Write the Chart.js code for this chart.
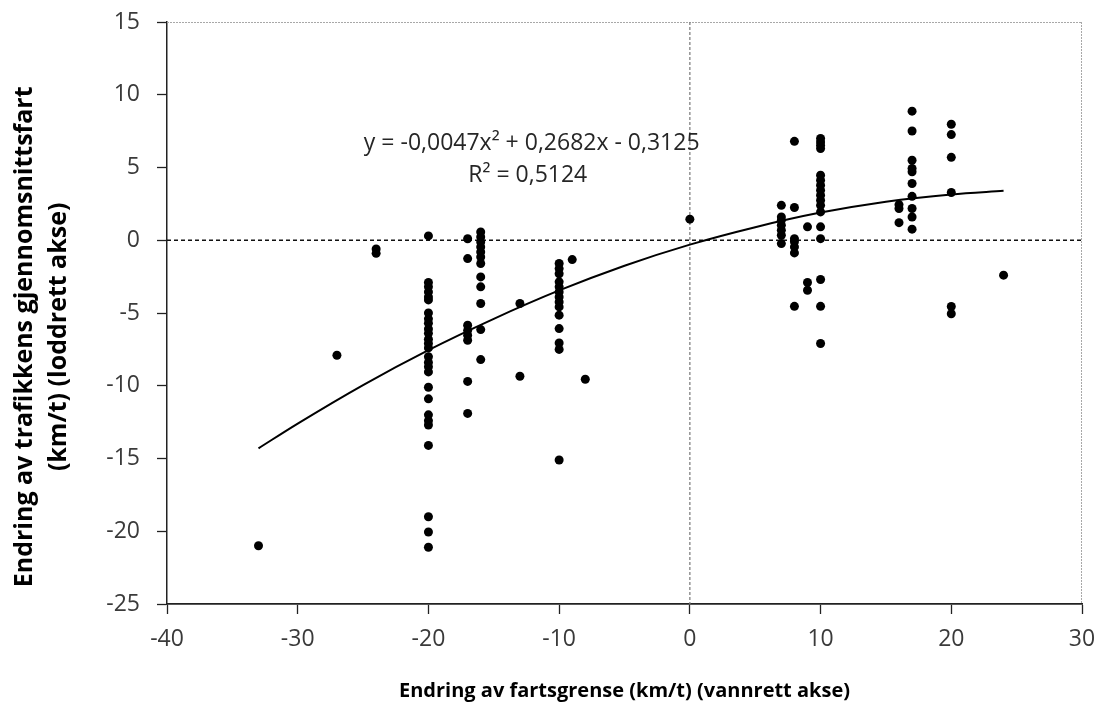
<!DOCTYPE html>
<html>
<head>
<meta charset="utf-8">
<script src="https://cdn.jsdelivr.net/npm/chart.js@4.4.1/dist/chart.umd.min.js"></script>
<style>
html,body{margin:0;padding:0;background:#fff;}
#wrap{width:1103px;height:715px;position:relative;}
canvas{display:block;}
</style>
</head>
<body>
<div id="wrap"><canvas id="c" width="1103" height="715"></canvas></div>
<script>
// ---- Data ----
const speedLimitChange = [
  -33, -27, -24, -24,
  -20, -20, -20, -20, -20, -20, -20, -20, -20, -20, -20, -20, -20, -20,
  -20, -20, -20, -20, -20, -20, -20, -20, -20, -20, -20, -20, -20,
  -17, -17, -17, -17, -17, -17, -17, -17,
  -16, -16, -16, -16, -16, -16, -16, -16, -16, -16, -16, -16,
  -13, -13,
  -10, -10, -10, -10, -10, -10, -10, -10, -10, -10, -10, -10, -10, -10,
  -9, -8, 0,
  7, 7, 7, 7, 7, 7, 7,
  8, 8, 8, 8, 8, 8, 8,
  9, 9, 9,
  10, 10, 10, 10, 10, 10, 10, 10, 10, 10, 10, 10, 10, 10, 10, 10, 10,
  16, 16, 16,
  17, 17, 17, 17, 17, 17, 17, 17, 17, 17,
  20, 20, 20, 20, 20, 20,
  24
];
const avgSpeedChange = [
  -21.0, -7.9, -0.6, -0.9,
  0.3, -2.9, -3.2, -3.55, -3.9, -4.1, -5.0, -5.4, -5.7, -6.1, -6.4, -6.8, -7.1, -7.4,
  -8.0, -8.4, -8.7, -9.05, -10.1, -10.9, -12.0, -12.4, -12.7, -14.1, -19.0, -20.05, -21.1,
  0.1, -1.26, -5.84, -6.19, -6.53, -6.87, -9.7, -11.9,
  0.57, 0.23, -0.12, -0.46, -0.8, -1.15, -1.6, -2.52, -3.2, -4.35, -6.14, -8.2,
  -4.35, -9.35,
  -1.6, -1.95, -2.3, -2.86, -3.2, -3.55, -3.9, -4.24, -4.58, -5.15, -6.07, -7.06, -7.5, -15.1,
  -1.33, -9.55, 1.45,
  2.4, 1.6, 1.37, 1.03, 0.69, 0.34, -0.23,
  6.8, 2.25, 0.11, -0.11, -0.46, -0.87, -4.54,
  0.92, -2.9, -3.44,
  6.99, 6.76, 6.53, 6.3, 4.47, 4.12, 3.78, 3.44, 3.09, 2.75, 2.4, 1.95, 0.92, 0.11, -2.7, -4.54, -7.1,
  2.45, 2.18, 1.21,
  8.87, 7.51, 5.5, 4.93, 4.7, 3.9, 3.02, 2.18, 1.6, 0.76,
  7.97, 7.26, 5.7, 3.28, -4.55, -5.05,
  -2.4
];
// Trend curve
const trendX = [-33, -30, -25, -20, -15, -10, -5, 0, 5, 10, 15, 20, 24];
const trendY = [-14.3, -12.6, -9.95, -7.55, -5.4, -3.45, -1.75, -0.3, 0.9, 1.9, 2.65, 3.15, 3.4];

const xTickValues = [-40, -30, -20, -10, 0, 10, 20, 30];
const yTickValues = [-25, -20, -15, -10, -5, 0, 5, 10, 15];

const equationLines = ['y = -0,0047x\u00B2 + 0,2682x - 0,3125', 'R\u00B2 = 0,5124'];
const xTitle = 'Endring av fartsgrense (km/t) (vannrett akse)';
const yTitle = ['Endring av trafikkens gjennomsnittsfart', '(km/t) (loddrett akse)'];

// ---- Build datasets ----
const scatterPoints = speedLimitChange.map((x, i) => ({ x: x, y: avgSpeedChange[i] }));
const trendPoints = trendX.map((x, i) => ({ x: x, y: trendY[i] }));

const FONT = '"Open Sans", "Noto Sans", "Liberation Sans", sans-serif';

const decor = {
  id: 'decor',
  beforeDatasetsDraw(chart) {
    const { ctx, chartArea: a, scales: { x, y } } = chart;
    ctx.save();
    // light top/right plot border
    ctx.strokeStyle = '#a8a8a8';
    ctx.lineWidth = 1;
    ctx.setLineDash([2, 1]);
    ctx.beginPath();
    ctx.moveTo(a.left, a.top + 0.5); ctx.lineTo(a.right, a.top + 0.5);
    ctx.moveTo(a.right - 0.5, a.top); ctx.lineTo(a.right - 0.5, a.bottom);
    ctx.stroke();
    // zero lines
    const y0 = y.getPixelForValue(0);
    const x0 = x.getPixelForValue(0);
    ctx.strokeStyle = '#111';
    ctx.lineWidth = 1.3;
    ctx.setLineDash([4, 3]);
    ctx.beginPath(); ctx.moveTo(a.left, y0); ctx.lineTo(a.right, y0); ctx.stroke();
    ctx.strokeStyle = '#808080';
    ctx.lineWidth = 1.3;
    ctx.setLineDash([3, 2]);
    ctx.beginPath(); ctx.moveTo(x0, a.top); ctx.lineTo(x0, a.bottom); ctx.stroke();
    ctx.restore();
  },
  afterDatasetsDraw(chart) {
    const { ctx, scales: { x, y } } = chart;
    ctx.save();
    ctx.font = '23px ' + FONT;
    ctx.fillStyle = '#262626';
    ctx.textAlign = 'center';
    ctx.textBaseline = 'middle';
    ctx.fillText(equationLines[0], x.getPixelForValue(-12.1), y.getPixelForValue(6.67));
    ctx.fillText(equationLines[1], x.getPixelForValue(-12.4), y.getPixelForValue(4.45));
    ctx.restore();
  },
  afterDraw(chart) {
    // vertical axis title (two lines, rotated)
    const { ctx, chartArea: a } = chart;
    const cy = a.top + (a.bottom - a.top) * 0.541;
    ctx.save();
    ctx.font = 'bold 25px ' + FONT;
    ctx.fillStyle = '#000';
    ctx.textAlign = 'center';
    ctx.textBaseline = 'middle';
    const xs = [25, 59];
    yTitle.forEach((line, i) => {
      ctx.save();
      ctx.translate(xs[i], cy);
      ctx.rotate(-Math.PI / 2);
      ctx.fillText(line, 0, 0);
      ctx.restore();
    });
    ctx.restore();
  }
};

new Chart(document.getElementById('c'), {
  type: 'scatter',
  data: {
    datasets: [
      {
        label: 'trend',
        type: 'line',
        data: trendPoints,
        borderColor: '#000',
        borderWidth: 2,
        pointRadius: 0,
        fill: false,
        cubicInterpolationMode: 'monotone',
        order: 1
      },
      {
        label: 'points',
        data: scatterPoints,
        backgroundColor: '#000',
        borderColor: '#000',
        borderWidth: 0,
        pointRadius: 4.5,
        pointHoverRadius: 4.5,
        order: 2
      }
    ]
  },
  options: {
    responsive: false,
    animation: false,
    events: [],
    layout: { padding: { left: 0, right: 21, top: 22, bottom: 0 } },
    plugins: { legend: { display: false }, tooltip: { enabled: false } },
    scales: {
      x: {
        type: 'linear',
        min: -40, max: 30,
        afterBuildTicks: s => { s.ticks = xTickValues.map(v => ({ value: v })); },
        afterFit: s => { s.height = 111; s.paddingLeft = 0; s.paddingRight = 0; },
        grid: { drawOnChartArea: false, drawTicks: true, tickLength: 10, tickColor: '#222', tickWidth: 1.3 },
        border: { display: true, color: '#222', width: 1.8 },
        ticks: { font: { family: FONT, size: 23 }, color: '#3a3a3a', padding: 12, maxRotation: 0, autoSkip: false },
        title: {
          display: true, text: xTitle, color: '#000',
          font: { family: FONT, size: 20, weight: 'bold', lineHeight: 1.2 },
          padding: { top: 0, bottom: 12 }
        }
      },
      y: {
        type: 'linear',
        min: -25, max: 15,
        afterBuildTicks: s => { s.ticks = yTickValues.map(v => ({ value: v })); },
        afterFit: s => { s.width = 167; s.paddingTop = 0; s.paddingBottom = 0; },
        grid: { drawOnChartArea: false, drawTicks: true, tickLength: 10, tickColor: '#222', tickWidth: 1.3 },
        border: { display: true, color: '#222', width: 1.5 },
        ticks: { font: { family: FONT, size: 23 }, color: '#3a3a3a', padding: 17, autoSkip: false },
        title: { display: false }
      }
    }
  },
  plugins: [decor]
});
</script>
</body>
</html>
